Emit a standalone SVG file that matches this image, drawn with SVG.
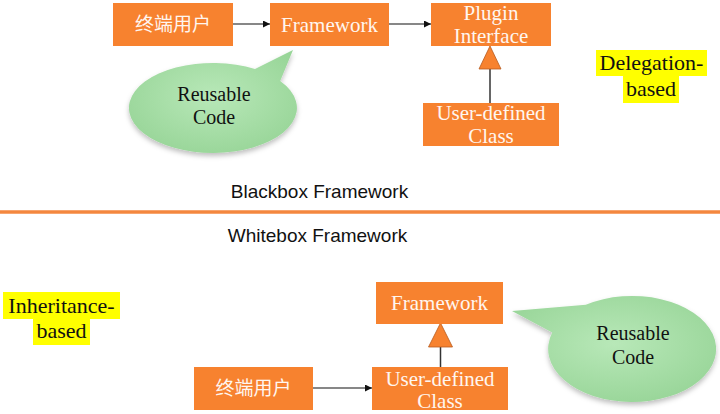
<svg xmlns="http://www.w3.org/2000/svg" width="720" height="414" viewBox="0 0 720 414">
<defs>
<style>
.box{fill:#F7822F;}
.bt{font-family:"Liberation Serif","Noto Sans CJK SC",serif;font-size:21px;fill:#FFF6EF;text-anchor:middle;}
.cjk{font-family:"Noto Sans CJK SC",sans-serif;font-size:19px;fill:#FFF6EF;text-anchor:middle;}
.bub{fill:url(#g);filter:url(#sh);}
.bubt{font-family:"Liberation Serif",serif;font-size:20px;fill:#111;text-anchor:middle;}
.hl{fill:#FFFF00;}
.hlt{font-family:"Liberation Serif",serif;font-size:22px;fill:#111;text-anchor:middle;}
.title{font-family:"Liberation Sans",Arial,sans-serif;font-size:19px;fill:#111;text-anchor:middle;}
.arr{stroke:#111;stroke-width:1.2;fill:none;marker-end:url(#ah);}
.gen{stroke:#333;stroke-width:1.5;fill:none;}
.tri{fill:#F7822F;stroke:#B85A1E;stroke-width:0.8;}
</style>
<marker id="ah" viewBox="0 0 10 10" refX="10" refY="5" markerWidth="7" markerHeight="7" orient="auto" markerUnits="userSpaceOnUse">
<path d="M0,0 L10,5 L0,10 Z" fill="#111"/>
</marker>
<radialGradient id="g" cx="0.5" cy="0.45" r="0.6">
<stop offset="0" stop-color="#B8E8B8"/>
<stop offset="1" stop-color="#98D598"/>
</radialGradient>
<filter id="sh" x="-20%" y="-20%" width="140%" height="150%">
<feDropShadow dx="0" dy="3" stdDeviation="2.5" flood-color="#000" flood-opacity="0.25"/>
</filter>
</defs>
<rect width="720" height="414" fill="#FFFFFF"/>

<g id="connectors">
<line class="arr" x1="233" y1="24" x2="270" y2="24"/>
<line class="arr" x1="389" y1="24" x2="431" y2="24"/>
<line class="gen" x1="490" y1="69" x2="490" y2="103"/>
<polygon class="tri" points="490,46 479,69 501,69"/>
<line class="arr" x1="313" y1="388" x2="372" y2="388"/>
<line class="gen" x1="440.5" y1="347" x2="440.5" y2="367"/>
<polygon class="tri" points="440.5,323 428.5,347 452.5,347"/>
</g>

<g id="top-enduser">
<rect class="box" x="113" y="3" width="120" height="43"/>
<text class="cjk" x="173" y="31">终端用户</text>
</g>
<g id="top-framework">
<rect class="box" x="270" y="3" width="119" height="43"/>
<text class="bt" x="329.5" y="32">Framework</text>
</g>
<g id="top-plugin">
<rect class="box" x="431" y="3" width="120" height="43"/>
<text class="bt" x="491" y="20">Plugin</text>
<text class="bt" x="491" y="43">Interface</text>
</g>
<g id="top-userclass">
<rect class="box" x="423" y="103" width="136" height="43"/>
<text class="bt" x="491" y="120">User-defined</text>
<text class="bt" x="491" y="143">Class</text>
</g>
<g id="top-bubble">
<path class="bub" d="M255,69 L293,50 L280.2,81 A84,45 0 1 1 255,69 Z"/>
<text class="bubt" x="214" y="101">Reusable</text>
<text class="bubt" x="214" y="124">Code</text>
</g>
<g id="delegation-label">
<rect class="hl" x="596" y="50" width="111" height="26"/>
<rect class="hl" x="623" y="76" width="56" height="27"/>
<text class="hlt" x="651.5" y="70">Delegation-</text>
<text class="hlt" x="651" y="96">based</text>
</g>

<text class="title" x="319.5" y="198">Blackbox Framework</text>
<line x1="0" y1="212" x2="720" y2="212" stroke="#F4873F" stroke-width="3.5"/>
<text class="title" x="317.5" y="242">Whitebox Framework</text>

<g id="inheritance-label">
<rect class="hl" x="3" y="292" width="117" height="27"/>
<rect class="hl" x="33" y="319" width="57" height="26"/>
<text class="hlt" x="61.5" y="313">Inheritance-</text>
<text class="hlt" x="61.5" y="338">based</text>
</g>
<g id="bottom-framework">
<rect class="box" x="376" y="282" width="127" height="42"/>
<text class="bt" x="439.5" y="310">Framework</text>
</g>
<g id="bottom-userclass">
<rect class="box" x="372" y="367" width="136" height="43"/>
<text class="bt" x="440" y="386">User-defined</text>
<text class="bt" x="440" y="408">Class</text>
</g>
<g id="bottom-enduser">
<rect class="box" x="194" y="367" width="119" height="43"/>
<text class="cjk" x="253.5" y="395">终端用户</text>
</g>
<g id="bottom-bubble">
<path class="bub" d="M585.8,304.7 L512,311 L552.2,332.6 A84,53 0 1 0 585.8,304.7 Z"/>
<text class="bubt" x="633" y="340">Reusable</text>
<text class="bubt" x="633" y="364">Code</text>
</g>
</svg>
